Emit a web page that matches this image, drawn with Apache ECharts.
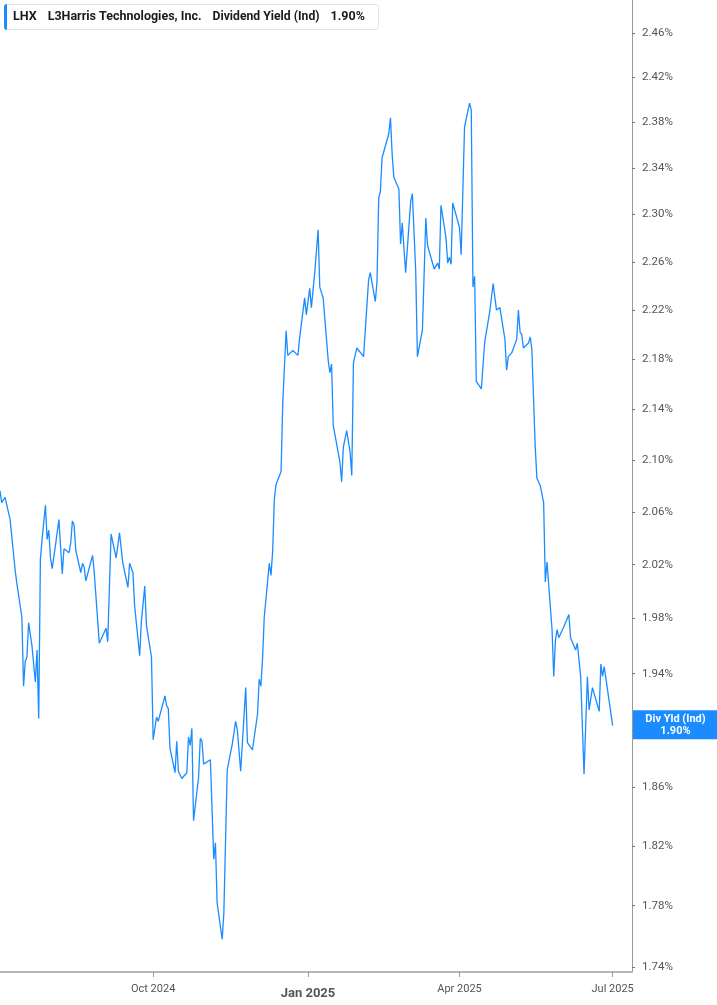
<!DOCTYPE html>
<html>
<head>
<meta charset="utf-8">
<script src="https://cdn.jsdelivr.net/npm/echarts@6/dist/echarts.min.js"></script>
<style>
  html, body { margin: 0; padding: 0; background: #fff; }
  #main { width: 717px; height: 1005px; }
</style>
</head>
<body>
<div id="main"></div>
<script>
// dividend yield (ind), %
var dates = [
  '2024-07-02','2024-07-03','2024-07-05','2024-07-08','2024-07-09','2024-07-11','2024-07-12','2024-07-15','2024-07-16','2024-07-17',
  '2024-07-18','2024-07-19','2024-07-21','2024-07-23','2024-07-24','2024-07-25','2024-07-26','2024-07-27','2024-07-29','2024-07-30',
  '2024-07-31','2024-08-01','2024-08-02','2024-08-04','2024-08-06','2024-08-08','2024-08-09','2024-08-12','2024-08-13','2024-08-14',
  '2024-08-15','2024-08-16','2024-08-19','2024-08-20','2024-08-21','2024-08-22','2024-08-26','2024-08-27','2024-08-30','2024-09-03',
  '2024-09-04','2024-09-06','2024-09-09','2024-09-11','2024-09-13','2024-09-16','2024-09-17','2024-09-18','2024-09-19','2024-09-20',
  '2024-09-23','2024-09-24','2024-09-26','2024-09-27','2024-09-30','2024-10-01','2024-10-03','2024-10-04','2024-10-08','2024-10-09',
  '2024-10-10','2024-10-11','2024-10-14','2024-10-15','2024-10-16','2024-10-18','2024-10-21','2024-10-22','2024-10-23','2024-10-24',
  '2024-10-25','2024-10-28','2024-10-29','2024-10-30','2024-10-31','2024-11-04','2024-11-06','2024-11-07','2024-11-08','2024-11-11',
  '2024-11-12','2024-11-13','2024-11-14','2024-11-17','2024-11-19','2024-11-20','2024-11-22','2024-11-25','2024-11-26','2024-11-27',
  '2024-11-29','2024-12-02','2024-12-03','2024-12-04','2024-12-05','2024-12-06','2024-12-09','2024-12-10','2024-12-11','2024-12-12',
  '2024-12-13','2024-12-16','2024-12-17','2024-12-19','2024-12-20','2024-12-23','2024-12-26','2024-12-27','2024-12-30','2024-12-31',
  '2025-01-02','2025-01-03','2025-01-05','2025-01-07','2025-01-08','2025-01-10','2025-01-13','2025-01-14','2025-01-15','2025-01-16',
  '2025-01-17','2025-01-20','2025-01-21','2025-01-22','2025-01-24','2025-01-26','2025-01-27','2025-01-28','2025-01-30','2025-01-31',
  '2025-02-03','2025-02-06','2025-02-07','2025-02-10','2025-02-11','2025-02-12','2025-02-13','2025-02-14','2025-02-18','2025-02-19',
  '2025-02-20','2025-02-21','2025-02-24','2025-02-25','2025-02-26','2025-02-28','2025-03-03','2025-03-04','2025-03-06','2025-03-07',
  '2025-03-10','2025-03-12','2025-03-13','2025-03-14','2025-03-17','2025-03-19','2025-03-20','2025-03-21','2025-03-24','2025-03-25',
  '2025-03-26','2025-03-27','2025-03-28','2025-04-01','2025-04-02','2025-04-04','2025-04-07','2025-04-08','2025-04-09','2025-04-10',
  '2025-04-11','2025-04-14','2025-04-16','2025-04-19','2025-04-21','2025-04-23','2025-04-25','2025-04-28','2025-04-29','2025-04-30',
  '2025-05-02','2025-05-05','2025-05-06','2025-05-07','2025-05-08','2025-05-09','2025-05-12','2025-05-13','2025-05-14','2025-05-16',
  '2025-05-17','2025-05-19','2025-05-20','2025-05-21','2025-05-22','2025-05-23','2025-05-26','2025-05-27','2025-05-28','2025-05-29',
  '2025-05-30','2025-06-02','2025-06-03','2025-06-05','2025-06-06','2025-06-09','2025-06-10','2025-06-12','2025-06-14','2025-06-16',
  '2025-06-17','2025-06-19','2025-06-23','2025-06-24','2025-06-25','2025-06-26','2025-06-27','2025-07-01'
];
var yields = [
  2.076,2.067,2.071,2.054,2.053,2.016,2.006,1.981,1.931,1.949,
  1.952,1.977,1.960,1.934,1.957,1.908,2.024,2.039,2.065,2.039,
  2.046,2.025,2.017,2.035,2.054,2.013,2.032,2.029,2.036,2.053,
  2.050,2.031,2.014,2.021,2.018,2.008,2.027,2.014,1.962,1.973,
  1.963,2.043,2.025,2.044,2.021,2.003,2.021,2.020,2.014,1.989,
  1.953,1.978,2.004,1.975,1.952,1.893,1.909,1.906,1.924,1.917,
  1.915,1.887,1.870,1.892,1.871,1.866,1.870,1.895,1.889,1.901,
  1.837,1.867,1.894,1.892,1.876,1.879,1.811,1.822,1.782,1.758,
  1.775,1.775,1.872,1.890,1.906,1.900,1.871,1.930,1.891,1.892,
  1.886,1.911,1.936,1.931,1.951,1.981,2.021,2.012,2.030,2.070,
  2.081,2.091,2.145,2.203,2.183,2.187,2.183,2.197,2.230,2.216,
  2.238,2.222,2.251,2.287,2.239,2.230,2.179,2.169,2.176,2.127,
  2.127,2.098,2.083,2.110,2.123,2.106,2.088,2.177,2.189,2.189,
  2.182,2.245,2.251,2.227,2.244,2.314,2.320,2.349,2.370,2.384,
  2.352,2.332,2.322,2.275,2.293,2.251,2.311,2.318,2.252,2.182,
  2.204,2.297,2.274,2.274,2.254,2.259,2.254,2.308,2.280,2.259,
  2.264,2.258,2.310,2.289,2.266,2.376,2.397,2.391,2.239,2.248,
  2.162,2.156,2.194,2.219,2.242,2.220,2.222,2.196,2.171,2.182,
  2.185,2.196,2.220,2.202,2.200,2.189,2.193,2.198,2.188,2.110,
  2.086,2.080,2.080,2.067,2.007,2.022,1.972,1.938,1.964,1.972,
  1.966,1.974,1.975,1.983,1.966,1.957,1.962,1.938,1.869,1.938,
  1.914,1.930,1.913,1.947,1.938,1.945,1.945,1.903
];
var yTicks = [1.74,1.78,1.82,1.86,1.90,1.94,1.98,2.02,2.06,2.10,2.14,2.18,2.22,2.26,2.30,2.34,2.38,2.42,2.46];
var xTicks = ['2024-10-01','2025-01-01','2025-04-01','2025-07-01'];
var xLabels = ['Oct 2024','Jan 2025','Apr 2025','Jul 2025'];

var blue = '#1a8cff';
var font = 'Roboto';

function ts(s) { return new Date(s + 'T00:00:00').getTime(); }

var xTickTs = xTicks.map(ts);
var last = yields[yields.length - 1];
var lastTxt = last.toFixed(2) + '%';

// x: timestamps on a value axis; y: ln(yield) so the scale is logarithmic
var chart = echarts.init(document.getElementById('main'));
chart.setOption({
  animation: false,
  backgroundColor: '#fff',
  textStyle: { fontFamily: font },
  title: {
    left: 4,
    top: 4,
    padding: [6, 14, 6, 9],
    backgroundColor: '#fff',
    borderColor: '#e4e4e4',
    borderWidth: 1,
    borderRadius: 3,
    text: '{b|LHX}{g| }{b|L3Harris Technologies, Inc.}{g| }{n|Dividend Yield (Ind)}{g| }{b|' + lastTxt + '}',
    textStyle: {
      rich: {
        b: { fontFamily: font, fontSize: 12.5, fontWeight: 'bold', color: '#1a1a1a', lineHeight: 14 },
        n: { fontFamily: font, fontSize: 12.2, color: '#1a1a1a', lineHeight: 14 },
        g: { width: 11, fontSize: 12 }
      }
    }
  },
  graphic: [{
    type: 'rect',
    left: 4, top: 4, z: 100,
    shape: { width: 3, height: 26, r: [3, 0, 0, 3] },
    style: { fill: blue }
  }],
  grid: { left: 0, right: 85, top: 0, bottom: 33, containLabel: false },
  xAxis: {
    type: 'value',
    min: ts('2024-07-02'),
    max: ts('2025-07-12') + 12 * 3600 * 1000,
    splitLine: { show: false },
    axisLine: { show: true, lineStyle: { color: '#b5b5b5', width: 2 } },
    axisTick: { show: true, customValues: xTickTs, length: 5, lineStyle: { color: '#999' } },
    axisLabel: {
      customValues: xTickTs,
      margin: 12,
      color: '#555',
      fontSize: 11,
      fontFamily: font,
      formatter: function (v) {
        var i = xTickTs.indexOf(v);
        var t = i >= 0 ? xLabels[i] : '';
        return t === 'Jan 2025' ? '{y|' + t + '}' : t;
      },
      rich: { y: { fontSize: 13, fontWeight: 'bold', color: '#555', fontFamily: font, padding: [3, 0, 0, 0] } }
    }
  },
  yAxis: {
    type: 'value',
    position: 'right',
    min: Math.log(1.7368),
    max: Math.log(2.4905),
    splitLine: { show: false },
    axisLine: { show: true, lineStyle: { color: '#999', width: 1 } },
    axisTick: { show: true, customValues: yTicks.map(Math.log), length: 3, lineStyle: { color: '#777' } },
    axisLabel: {
      customValues: yTicks.map(Math.log),
      margin: 10,
      color: '#555',
      fontSize: 11.5,
      fontFamily: font,
      formatter: function (v) { return Math.exp(v).toFixed(2) + '%'; }
    }
  },
  series: [{
    type: 'line',
    clip: false,
    data: dates.map(function (d, i) { return [ts(d), Math.log(yields[i])]; }),
    showSymbol: false,
    symbol: 'none',
    lineStyle: { color: blue, width: 1.3 },
    markLine: {
      silent: true,
      symbol: 'none',
      lineStyle: { color: blue, width: 0, opacity: 0 },
      data: [{ yAxis: Math.log(last) }],
      label: {
        show: true,
        position: 'end',
        distance: 1,
        offset: [0, -10],
        opacity: 1,
        backgroundColor: blue,
        padding: [3, 0, 2, 0],
        formatter: '{a|Div Yld (Ind)}\n{a|' + lastTxt + '}',
        rich: {
          a: { width: 85, align: 'center', color: '#fff', fontWeight: 'bold', fontSize: 11, lineHeight: 12, fontFamily: font }
        }
      }
    }
  }]
});
</script>
</body>
</html>
